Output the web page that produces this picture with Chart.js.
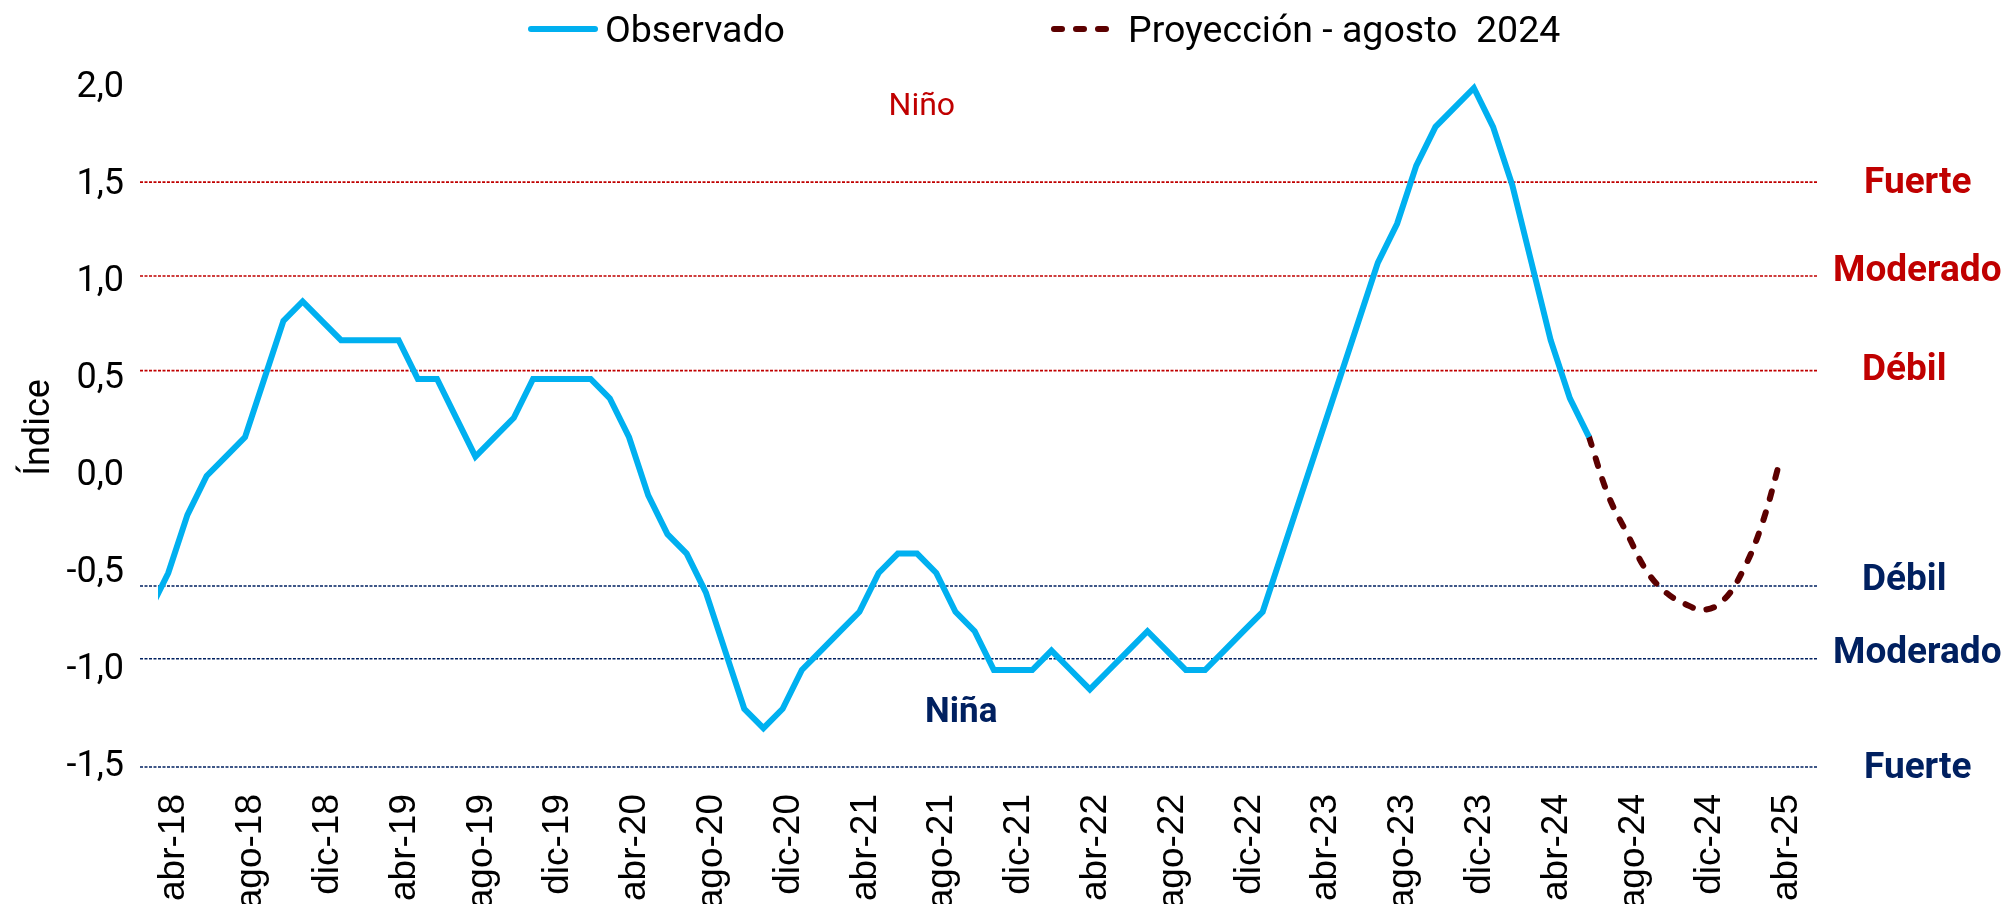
<!DOCTYPE html>
<html>
<head>
<meta charset="utf-8">
<script src="https://cdn.jsdelivr.net/npm/chart.js@4.4.1/dist/chart.umd.min.js"></script>
<style>
  html, body { margin: 0; padding: 0; background: #ffffff; }
  canvas { display: block; }
</style>
</head>
<body>
<canvas id="c" width="2008" height="904"></canvas>
<script>
// ---------- DATA ----------
const months = [
  'mar-18','abr-18','may-18','jun-18','jul-18','ago-18','sep-18','oct-18','nov-18','dic-18',
  'ene-19','feb-19','mar-19','abr-19','may-19','jun-19','jul-19','ago-19','sep-19','oct-19','nov-19','dic-19',
  'ene-20','feb-20','mar-20','abr-20','may-20','jun-20','jul-20','ago-20','sep-20','oct-20','nov-20','dic-20',
  'ene-21','feb-21','mar-21','abr-21','may-21','jun-21','jul-21','ago-21','sep-21','oct-21','nov-21','dic-21',
  'ene-22','feb-22','mar-22','abr-22','may-22','jun-22','jul-22','ago-22','sep-22','oct-22','nov-22','dic-22',
  'ene-23','feb-23','mar-23','abr-23','may-23','jun-23','jul-23','ago-23','sep-23','oct-23','nov-23','dic-23',
  'ene-24','feb-24','mar-24','abr-24','may-24','jun-24','jul-24','ago-24','sep-24','oct-24','nov-24','dic-24',
  'ene-25','feb-25','mar-25','abr-25'
];

const xTickLabels = ['abr-18','ago-18','dic-18','abr-19','ago-19','dic-19','abr-20','ago-20','dic-20',
  'abr-21','ago-21','dic-21','abr-22','ago-22','dic-22','abr-23','ago-23','dic-23','abr-24','ago-24','dic-24','abr-25'];

// Observado: mar-18 .. jun-24
const observado = [
  -0.7,
  -0.5, -0.2, 0.0, 0.1, 0.2, 0.5, 0.8, 0.9, 0.8,
  0.7, 0.7, 0.7, 0.7, 0.5, 0.5, 0.3, 0.1, 0.2, 0.3, 0.5, 0.5,
  0.5, 0.5, 0.4, 0.2, -0.1, -0.3, -0.4, -0.6, -0.9, -1.2, -1.3, -1.2,
  -1.0, -0.9, -0.8, -0.7, -0.5, -0.4, -0.4, -0.5, -0.7, -0.8, -1.0, -1.0,
  -1.0, -0.9, -1.0, -1.1, -1.0, -0.9, -0.8, -0.9, -1.0, -1.0, -0.9, -0.8,
  -0.7, -0.4, -0.1, 0.2, 0.5, 0.8, 1.1, 1.3, 1.6, 1.8, 1.9, 2.0,
  1.8, 1.5, 1.1, 0.7, 0.4, 0.2
];
const observadoStart = 'mar-18';

// Proyección - agosto 2024: jun-24 .. abr-25
const proyeccion = [0.2, -0.1, -0.3, -0.49, -0.6, -0.66, -0.69, -0.64, -0.49, -0.25, 0.1];
const proyeccionStart = 'jun-24';

// Umbrales (líneas punteadas) y etiquetas
const nivelesNino = [1.515, 1.031, 0.543];
const etiquetasNino = ['Fuerte', 'Moderado', 'Débil'];
const nivelesNina = [-0.567, -0.942, -1.5];
const etiquetasNina = ['Débil', 'Moderado', 'Fuerte'];

const yTicks = [-1.5, -1.0, -0.5, 0.0, 0.5, 1.0, 1.5, 2.0];

// ---------- STYLE ----------
const C_OBS = '#00B0F0';
const C_PROJ = '#5C0000';
const C_RED = '#C00000';
const C_NAVY = '#002060';

const X_MIN = -0.47, X_MAX = 86.87;
// label placement tweaks (px): [dx from plot right, dy from line]
const ninoLabelOffsets = [[47, 2], [16, -4], [45, 0]];
const ninaLabelOffsets = [[45, -5], [16, -5], [47, 2]];

const idx = m => months.indexOf(m);
const obsData = observado.map((v, i) => ({ x: idx(observadoStart) + i, y: v }));
const projData = proyeccion.map((v, i) => ({ x: idx(proyeccionStart) + i, y: v }));

const refDatasets = [];
nivelesNino.forEach(v => refDatasets.push({
  data: [{ x: X_MIN, y: v }, { x: X_MAX, y: v }],
  borderColor: C_RED, borderWidth: 1.6, borderDash: [3, 1.5], pointRadius: 0, clip: false
}));
nivelesNina.forEach(v => refDatasets.push({
  data: [{ x: X_MIN, y: v }, { x: X_MAX, y: v }],
  borderColor: C_NAVY, borderWidth: 1.6, borderDash: [3, 1.5], pointRadius: 0, clip: false
}));

const overlay = {
  id: 'overlay',
  afterDraw(chart) {
    const { ctx, scales: { x, y } } = chart;
    ctx.save();
    // right-hand labels
    ctx.textAlign = 'left';
    ctx.textBaseline = 'middle';
    ctx.font = 'bold 37px Roboto';
    nivelesNino.forEach((v, i) => {
      ctx.fillStyle = C_RED;
      const [dx, dy] = ninoLabelOffsets[i];
      ctx.fillText(etiquetasNino[i], x.right + dx, y.getPixelForValue(v) + dy);
    });
    nivelesNina.forEach((v, i) => {
      ctx.fillStyle = C_NAVY;
      const [dx, dy] = ninaLabelOffsets[i];
      ctx.fillText(etiquetasNina[i], x.right + dx, y.getPixelForValue(v) + dy);
    });
    // Niño / Niña
    ctx.textAlign = 'center';
    ctx.fillStyle = C_RED;
    ctx.font = '32px Roboto';
    ctx.fillText('Niño', x.getPixelForValue(40.25), y.getPixelForValue(1.9));
    ctx.fillStyle = C_NAVY;
    ctx.font = 'bold 35px Roboto';
    ctx.fillText('Niña', x.getPixelForValue(42.3), y.getPixelForValue(-1.224));

    // legend
    ctx.lineWidth = 6;
    ctx.lineCap = 'round';
    ctx.strokeStyle = C_OBS;
    ctx.beginPath(); ctx.moveTo(531, 29); ctx.lineTo(595, 29); ctx.stroke();
    ctx.strokeStyle = C_PROJ;
    ctx.setLineDash([8, 14]);
    ctx.beginPath(); ctx.moveTo(1054, 29); ctx.lineTo(1110, 29); ctx.stroke();
    ctx.setLineDash([]);
    ctx.fillStyle = '#000';
    ctx.textAlign = 'left';
    ctx.textBaseline = 'alphabetic';
    ctx.font = '37.5px Roboto';
    ctx.fillText('Observado', 605, 42);
    ctx.fillText('Proyección - agosto  2024', 1128, 42);
    ctx.restore();
  }
};

new Chart(document.getElementById('c'), {
  type: 'line',
  data: {
    datasets: [
      {
        label: 'Observado', data: obsData,
        borderColor: C_OBS, borderWidth: 6, pointRadius: 0, tension: 0,
        borderJoinStyle: 'miter', borderCapStyle: 'butt',
        clip: { left: -18, top: 20, right: 20, bottom: 20 }
      },
      {
        label: 'Proyección - agosto  2024', data: projData,
        borderColor: C_PROJ, borderWidth: 6, pointRadius: 0, tension: 0.4,
        borderDash: [8, 14], borderCapStyle: 'round', clip: false
      },
      ...refDatasets
    ]
  },
  options: {
    responsive: false,
    devicePixelRatio: 1,
    animation: false,
    layout: { padding: { left: 0, right: 191, top: 88, bottom: 0 } },
    plugins: { legend: { display: false }, tooltip: { enabled: false } },
    scales: {
      x: {
        type: 'linear', min: X_MIN, max: X_MAX,
        grid: { display: false }, border: { display: false },
        afterBuildTicks: axis => { axis.ticks = xTickLabels.map(l => ({ value: idx(l) })); },
        afterFit: s => { s.height = 137; },
        ticks: {
          autoSkip: false, minRotation: 90, maxRotation: 90, padding: 19, labelOffset: 6,
          color: '#000', font: { family: 'Liberation Sans', size: 37 },
          callback: v => months[v]
        }
      },
      y: {
        type: 'linear', min: -1.5, max: 2.0,
        grid: { display: false }, border: { display: false },
        afterBuildTicks: axis => { axis.ticks = yTicks.map(v => ({ value: v })); },
        afterFit: s => { s.width = 140; },
        ticks: {
          padding: 8, color: '#000', font: { family: 'Roboto', size: 36 },
          callback: v => v.toFixed(1).replace('.', ',')
        },
        title: {
          display: true, text: 'Índice', color: '#000',
          font: { family: 'Roboto', size: 36 }, padding: { top: 18, bottom: 0 }
        }
      }
    }
  },
  plugins: [overlay]
});
</script>
</body>
</html>
